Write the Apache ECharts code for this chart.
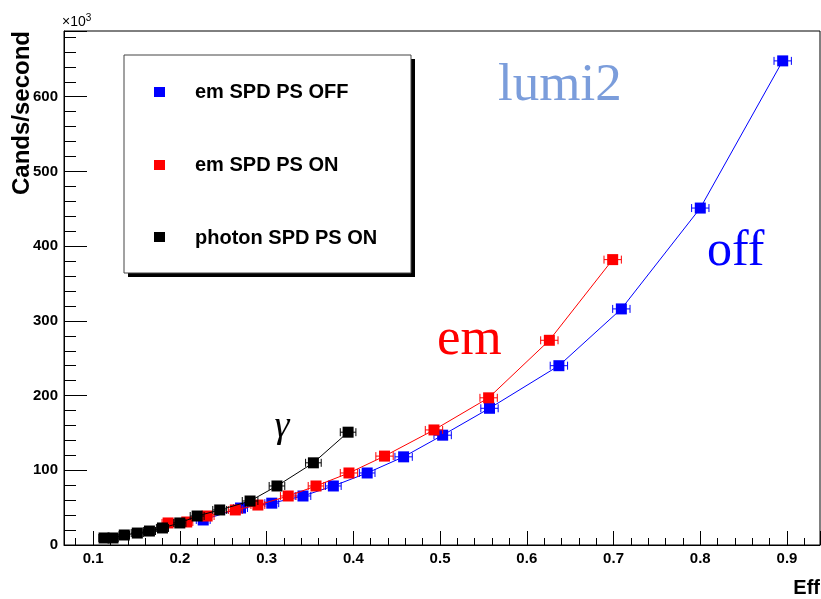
<!DOCTYPE html>
<html>
<head>
<meta charset="utf-8">
<script src="https://cdn.jsdelivr.net/npm/echarts@6/dist/echarts.min.js"></script>
<style>
  html, body { margin: 0; padding: 0; background: #fff; }
  #chart { width: 821px; height: 599px; }
</style>
</head>
<body>
<div id="chart"></div>
<script>
// em SPD PS OFF
var effOff   = [0.227, 0.270, 0.306, 0.342, 0.377, 0.416, 0.458, 0.503, 0.557, 0.637, 0.709, 0.800, 0.895];
var ratesOff = [33.5, 49.5, 56, 65.6, 79, 96.4, 118, 147, 183, 240, 316, 451, 648];
var errOff   = [0.008, 0.008, 0.008, 0.009, 0.009, 0.009, 0.010, 0.010, 0.010, 0.010, 0.010, 0.010, 0.010];

// em SPD PS ON
var effOn   = [0.1865, 0.208, 0.2315, 0.264, 0.290, 0.325, 0.357, 0.395, 0.436, 0.493, 0.556, 0.626, 0.699];
var ratesOn = [29.5, 30.8, 38.8, 46.9, 53.5, 65.6, 79, 96.4, 119, 154, 197, 274, 382];
var errOn   = [0.007, 0.007, 0.008, 0.008, 0.008, 0.009, 0.009, 0.010, 0.010, 0.010, 0.010, 0.010, 0.010];

// photon SPD PS ON
var effPh   = [0.1127, 0.123, 0.136, 0.151, 0.165, 0.180, 0.200, 0.220, 0.246, 0.281, 0.312, 0.354, 0.394];
var ratesPh = [9.4, 9.4, 13.4, 16, 18.7, 22.8, 29.5, 38.8, 46.9, 58.9, 79, 110, 151];
var errPh   = [0.006, 0.006, 0.006, 0.007, 0.007, 0.007, 0.007, 0.008, 0.008, 0.009, 0.009, 0.009, 0.009];

var legendNames = ['em SPD PS OFF', 'em SPD PS ON', 'photon SPD PS ON'];
var colors = ['#0000ff', '#ff0000', '#000000'];

function pairs(xs, ys) {
    return xs.map(function (x, i) { return [x, ys[i]]; });
}
function triples(xs, ys, es) {
    return xs.map(function (x, i) { return [x, ys[i], es[i]]; });
}

// horizontal error bars with small end caps
function errorBars(color) {
    return function (params, api) {
        var x = api.value(0), y = api.value(1), e = api.value(2);
        var a = api.coord([x - e, y]);
        var b = api.coord([x + e, y]);
        var st = { stroke: color, lineWidth: 1 };
        return {
            type: 'group',
            children: [
                { type: 'line', shape: { x1: a[0], y1: a[1], x2: b[0], y2: b[1] }, style: st },
                { type: 'line', shape: { x1: a[0], y1: a[1] - 4, x2: a[0], y2: a[1] + 4 }, style: st },
                { type: 'line', shape: { x1: b[0], y1: b[1] - 4, x2: b[0], y2: b[1] + 4 }, style: st }
            ]
        };
    };
}

var sets = [
    [effOff, ratesOff, errOff],
    [effOn, ratesOn, errOn],
    [effPh, ratesPh, errPh]
];

var series = [];
sets.forEach(function (s, i) {
    series.push({
        name: legendNames[i],
        type: 'line',
        data: pairs(s[0], s[1]),
        symbol: 'rect',
        symbolSize: 11,
        itemStyle: { color: colors[i] },
        lineStyle: { color: colors[i], width: 1 },
        z: 3 + i * 2
    });
    series.push({
        type: 'custom',
        data: triples(s[0], s[1], s[2]),
        renderItem: errorBars(colors[i]),
        z: 2 + i * 2
    });
});

var labelFont = { color: '#000', fontFamily: 'Liberation Sans, Arial', fontWeight: 'bold', fontSize: 15 };
var serif = 'Liberation Serif, Times New Roman, serif';
var legendFont = 'bold 20px Liberation Sans, Arial';

var chart = echarts.init(document.getElementById('chart'));
chart.setOption({
    animation: false,
    backgroundColor: '#fff',
    grid: { left: 64, right: 1, top: 31, bottom: 54, show: true, borderColor: '#000', borderWidth: 1 },
    xAxis: {
        type: 'value',
        min: 0.0665,
        max: 0.938,
        splitNumber: 9,
        axisLine: { lineStyle: { color: '#000' } },
        axisTick: { inside: true, length: 14, lineStyle: { color: '#000' } },
        minorTick: { show: true, splitNumber: 5, length: 7, lineStyle: { color: '#000' } },
        splitLine: { show: false },
        axisLabel: Object.assign({ margin: 6, showMinLabel: false, showMaxLabel: false }, labelFont)
    },
    yAxis: {
        type: 'value',
        min: 0,
        max: 688,
        interval: 100,
        axisLine: { show: true, lineStyle: { color: '#000' } },
        axisTick: { show: true, inside: true, length: 23, lineStyle: { color: '#000' } },
        minorTick: { show: true, splitNumber: 5, length: 12, lineStyle: { color: '#000' } },
        splitLine: { show: false },
        axisLabel: Object.assign({ margin: 6, showMaxLabel: false }, labelFont)
    },
    series: series,
    graphic: [
        // legend box with shadow
        { type: 'rect', shape: { x: 128, y: 59, width: 287, height: 218 }, style: { fill: '#000' }, z: 10 },
        { type: 'rect', shape: { x: 124, y: 55, width: 287, height: 218 }, style: { fill: '#fff', stroke: '#444', lineWidth: 1 }, z: 11 },
        { type: 'rect', shape: { x: 154, y: 87, width: 11, height: 10 }, style: { fill: colors[0] }, z: 12 },
        { type: 'rect', shape: { x: 154, y: 160, width: 11, height: 10 }, style: { fill: colors[1] }, z: 12 },
        { type: 'rect', shape: { x: 154, y: 232, width: 11, height: 10 }, style: { fill: colors[2] }, z: 12 },
        { type: 'text', x: 195, y: 92, z: 12, style: { text: legendNames[0], font: legendFont, fill: '#000', verticalAlign: 'middle' } },
        { type: 'text', x: 195, y: 165, z: 12, style: { text: legendNames[1], font: legendFont, fill: '#000', verticalAlign: 'middle' } },
        { type: 'text', x: 195, y: 238, z: 12, style: { text: legendNames[2], font: legendFont, fill: '#000', verticalAlign: 'middle' } },
        // annotations
        { type: 'text', x: 498, y: 86, style: { text: 'lumi2', font: '53px ' + serif, fill: '#7b9ddb', verticalAlign: 'middle' } },
        { type: 'text', x: 707, y: 252, style: { text: 'off', font: '50px ' + serif, fill: '#0000ff', verticalAlign: 'middle' } },
        { type: 'text', x: 437, y: 340, style: { text: 'em', font: '53px ' + serif, fill: '#ff0000', verticalAlign: 'middle' } },
        { type: 'text', x: 282, y: 427, style: { text: 'γ', font: 'italic 38px ' + serif, fill: '#000', align: 'center', verticalAlign: 'middle' } },
        // axis titles
        { type: 'text', x: 22, y: 31, rotation: Math.PI / 2, style: { text: 'Cands/second', font: 'bold 24px Liberation Sans, Arial', fill: '#000', align: 'right', verticalAlign: 'middle' } },
        { type: 'text', x: 820, y: 588, style: { text: 'Eff', font: 'bold 20px Liberation Sans, Arial', fill: '#000', align: 'right', verticalAlign: 'middle' } },
        { type: 'text', x: 62, y: 22, style: {
            text: '×10{s|3}', fill: '#000', font: '14px Liberation Sans, Arial', verticalAlign: 'middle',
            rich: { s: { fontSize: 10, verticalAlign: 'top', padding: [0, 0, 8, 0] } }
        } }
    ]
});
</script>
</body>
</html>
